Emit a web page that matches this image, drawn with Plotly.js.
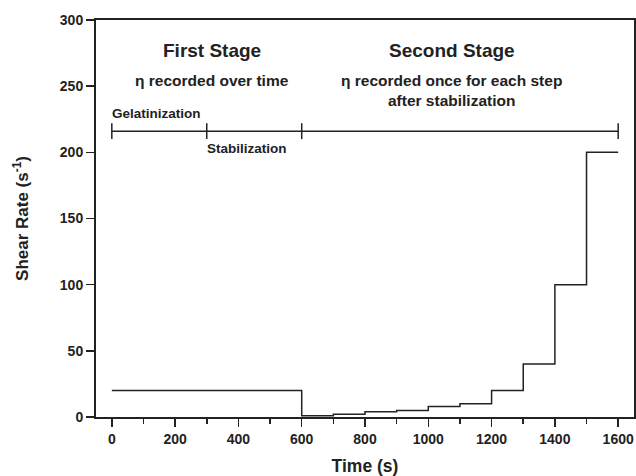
<!DOCTYPE html>
<html>
<head>
<meta charset="utf-8">
<script src="https://cdn.plot.ly/plotly-3.0.1.min.js"></script>
<style>html,body{margin:0;padding:0;background:#fff;}#chart{width:636px;height:476px;}</style>
</head>
<body>
<div id="chart"></div>
<script>
// Step profile: shear rate held from each time until the next
const stepTimes = [0, 600, 700, 800, 900, 1000, 1100, 1200, 1300, 1400, 1500, 1600];
const shearRates = [20, 1, 2, 4, 5, 8, 10, 20, 40, 100, 200, 200];

// Stage bracket (time marks) and its level on the shear-rate axis
const bracketTimes = [0, 300, 600, 1600];
const bracketLevel = 216;
const bracketTickHalf = 6;

// Text labels
const stageLabels = ["First Stage", "Second Stage"];
const stageX = [318, 1074];
const noteLabels = ["η recorded over time", "η recorded once for each step<br>after stabilization"];
const noteX = [315, 1074];
const phaseLabels = ["Gelatinization", "Stabilization"];
const phaseX = [0, 300];
const phaseY = [229, 203];

const xTicks = [0, 200, 400, 600, 800, 1000, 1200, 1400, 1600];
const yTicks = [0, 50, 100, 150, 200, 250, 300];

const ink = '#222';
const font = 'Liberation Sans, Arial, sans-serif';

const traces = [
  {
    x: stepTimes, y: shearRates, type: 'scatter', mode: 'lines',
    line: {shape: 'hv', color: ink, width: 1.5}, hoverinfo: 'skip', showlegend: false
  },
  {
    x: [bracketTimes[0], bracketTimes[bracketTimes.length - 1]],
    y: [bracketLevel, bracketLevel], type: 'scatter', mode: 'lines',
    line: {color: ink, width: 1.5}, hoverinfo: 'skip', showlegend: false
  }
];
bracketTimes.forEach(t => traces.push({
  x: [t, t], y: [bracketLevel - bracketTickHalf, bracketLevel + bracketTickHalf],
  type: 'scatter', mode: 'lines', line: {color: ink, width: 1.5},
  hoverinfo: 'skip', showlegend: false
}));

const annotations = [];
stageLabels.forEach((s, i) => annotations.push({
  x: stageX[i], y: 277, xref: 'x', yref: 'y', text: s, showarrow: false,
  font: {family: font, size: 19, color: ink, weight: 'bold'}, xanchor: 'center', yanchor: 'middle'
}));
annotations.push({
  x: noteX[0], y: 254, xref: 'x', yref: 'y', text: noteLabels[0], showarrow: false,
  font: {family: font, size: 15.5, color: ink, weight: 'bold'}, xanchor: 'center', yanchor: 'middle'
});
annotations.push({
  x: noteX[1], y: 247, xref: 'x', yref: 'y', text: noteLabels[1], showarrow: false,
  font: {family: font, size: 15.5, color: ink, weight: 'bold'}, xanchor: 'center', yanchor: 'middle'
});
phaseLabels.forEach((s, i) => annotations.push({
  x: phaseX[i], y: phaseY[i], xref: 'x', yref: 'y', text: s, showarrow: false,
  font: {family: font, size: 13.5, color: ink, weight: 'bold'}, xanchor: 'left', yanchor: 'middle', xshift: -2
}));

const layout = {
  width: 636, height: 476,
  margin: {l: 96, r: 2, t: 20, b: 59},
  paper_bgcolor: '#fff', plot_bgcolor: '#fff',
  font: {family: font, color: ink, size: 14, weight: 'bold'},
  showlegend: false,
  xaxis: {
    range: [-50, 1650], tickvals: xTicks, ticktext: xTicks.map(String),
    ticks: 'outside', ticklen: 8, tickwidth: 1.5, tickcolor: ink,
    minor: {dtick: 100, ticks: 'outside', ticklen: 5, tickwidth: 1.5, tickcolor: ink},
    showline: true, linecolor: ink, linewidth: 2, mirror: true,
    showgrid: false, zeroline: false,
    tickfont: {family: font, size: 14, color: ink, weight: 'bold'},
    title: {text: 'Time (s)', font: {family: font, size: 17.5, color: ink, weight: 'bold'}, standoff: 21}
  },
  yaxis: {
    range: [0, 300], tickvals: yTicks, ticktext: yTicks.map(String),
    ticks: 'outside', ticklen: 8, tickwidth: 1.5, tickcolor: ink,
    showline: true, linecolor: ink, linewidth: 2, mirror: true,
    showgrid: false, zeroline: false,
    tickfont: {family: font, size: 14, color: ink, weight: 'bold'},
    title: {text: 'Shear Rate (s<sup>-1</sup>)', font: {family: font, size: 17, color: ink, weight: 'bold'}, standoff: 27}
  },
  annotations: annotations
};

Plotly.newPlot('chart', traces, layout, {staticPlot: true, displayModeBar: false});
</script>
</body>
</html>
